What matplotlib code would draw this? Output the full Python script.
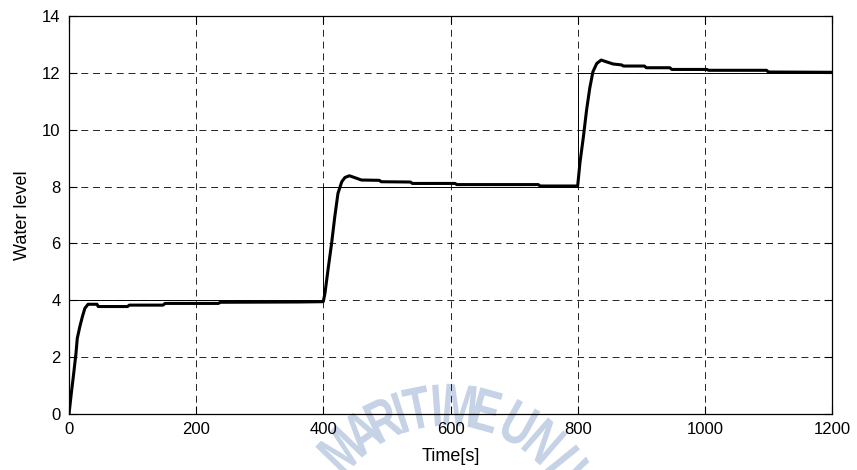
import numpy as np
import matplotlib
matplotlib.use("Agg")
import matplotlib.pyplot as plt
from matplotlib.textpath import TextPath
from matplotlib.patches import PathPatch
from matplotlib.font_manager import FontProperties
from matplotlib.transforms import Affine2D

# ---- data ----
ref_time = [0, 400, 400, 800, 800, 1200]
ref_level = [4, 4, 8, 8, 12, 12]

resp_time = [0, 4, 7, 11, 13, 17, 21, 25, 30, 44, 46, 92, 95, 148, 151, 235, 238, 362, 398,
             400, 402.5, 408, 413, 418, 423, 429, 434, 441, 450, 460, 488, 491, 537, 540, 607, 610, 738, 741, 800,
             803.5, 809, 814, 819, 824, 830, 837, 845, 856, 869, 872, 905, 908, 945, 948, 1003, 1006, 1097, 1100, 1200]
resp_level = [0, 0.8, 1.35, 2.14, 2.66, 3.07, 3.42, 3.72, 3.86, 3.86, 3.78, 3.78, 3.83, 3.83, 3.89, 3.89, 3.93, 3.94, 3.95,
              3.96, 4.24, 5.18, 6.0, 6.94, 7.76, 8.17, 8.32, 8.38, 8.31, 8.23, 8.22, 8.17, 8.16, 8.11, 8.11, 8.07, 8.07, 8.02, 8.02,
              8.82, 9.75, 10.69, 11.46, 12.04, 12.33, 12.45, 12.39, 12.31, 12.28, 12.24, 12.24, 12.18, 12.18, 12.12, 12.12, 12.09, 12.09, 12.03, 12.02]

x_ticks = [0, 200, 400, 600, 800, 1000, 1200]
y_ticks = [0, 2, 4, 6, 8, 10, 12, 14]

plt.rcParams['font.family'] = ['Liberation Sans', 'DejaVu Sans']
plt.rcParams['lines.scale_dashes'] = False

W, H = 857, 470
fig = plt.figure(figsize=(W / 100, H / 100), dpi=100, facecolor='white')
ax = fig.add_axes([69 / W, 1 - 414 / H, (832 - 69) / W, (414 - 16) / H])
ax.set_facecolor('none')
ax.set_zorder(1)

# watermark: condensed bold letters along an arc (pixel coords, y from top)
wm_letters = "MARITIMEUNIV"
wm_angles = [-46, -35, -25.5, -18.5, -11.5, -4, 5, 15.5, 29, 41, 51, 60]
cx, cy, r = 447, 553, 148
fp = FontProperties(family='Liberation Sans', weight='bold')
pix = Affine2D().scale(1 / 100) + fig.dpi_scale_trans
for ch, ang in zip(wm_letters, wm_angles):
    tp = TextPath((0, 0), ch, size=60, prop=fp)
    bb = tp.get_extents()
    th = np.deg2rad(ang)
    px = cx + r * np.sin(th)
    py = cy - r * np.cos(th)
    tr = (Affine2D().translate(-(bb.x0 + bb.x1) / 2, -(bb.y0 + bb.y1) / 2)
          .scale(0.72, 1.0).rotate_deg(-ang).translate(px, H - py))
    patch = PathPatch(tr.transform_path(tp), transform=pix, fc='#c6d3e7',
                      ec='none', zorder=0)
    fig.add_artist(patch)

ax.plot(ref_time, ref_level, color='black', lw=0.7, zorder=3)
ax.plot(resp_time, resp_level, color='black', lw=2.2, zorder=4, solid_joinstyle='round')

ax.set_xlim(0, 1200)
ax.set_ylim(0, 14)
ax.set_xticks(x_ticks)
ax.set_yticks(y_ticks)
ax.grid(True, color='black', lw=0.6, linestyle=(0, (5, 3.5)))
ax.tick_params(direction='in', length=5.5, width=0.8, top=True, right=True,
               labelsize=12, pad=6, colors='black')
for s in ax.spines.values():
    s.set_linewidth(0.9)

ax.set_xlabel('Time[s]', fontsize=13, labelpad=8)
ax.set_ylabel('Water level', fontsize=13, labelpad=8)

fig.savefig('out.png', dpi=100, facecolor='white')
